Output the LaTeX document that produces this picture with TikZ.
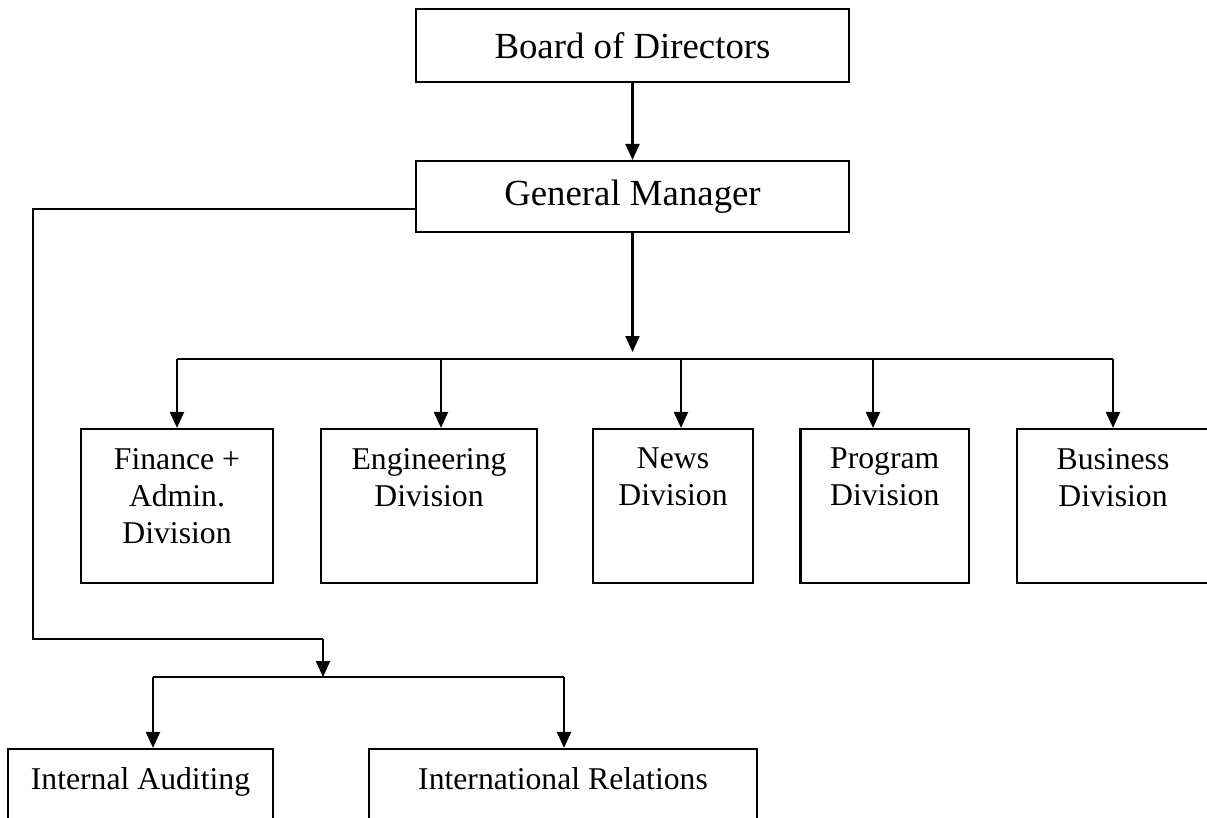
\documentclass[tikz,border=0pt]{standalone}
\usepackage{fontspec}
\setmainfont{Liberation Serif}
\usetikzlibrary{arrows.meta}
\begin{document}
\begin{tikzpicture}[x=1pt,y=-1pt,
  ln/.style={line width=2.2pt},
  arr/.style={line width=2.2pt,-{Triangle[length=16pt,width=14pt]}},
  box/.style={draw,line width=2.2pt,inner sep=0pt},
  big/.style={font=\fontsize{36.8}{43}\selectfont},
  divtext/.style={inner sep=0pt,anchor=north,align=center,font=\fontsize{31.7}{37}\selectfont},
  lowtext/.style={inner sep=0pt,anchor=base,font=\fontsize{31.7}{37}\selectfont}]
\useasboundingbox (0,0) rectangle (1207,818);
\fill[white] (0,0) rectangle (1207,818);
\clip (0,0) rectangle (1207,818);
% top boxes
\node[box,big,minimum width=433pt,minimum height=73pt] (board) at (632.5,45.5) {Board of Directors};
\node[box,big,minimum width=433pt,minimum height=71pt] (gm) at (632.5,196.5) {General Manager};
% division boxes
\node[box,minimum width=192pt,minimum height=154pt] (fin) at (177,506) {};
\node[box,minimum width=216pt,minimum height=154pt] (eng) at (429,506) {};
\node[box,minimum width=160pt,minimum height=154pt] (news) at (673,506) {};
\node[box,minimum width=168.5pt,minimum height=154pt] (prog) at (884.75,506) {};
\node[box,minimum width=193pt,minimum height=154pt] (bus) at (1113.5,506) {};
\node[divtext] (fint) at (177,448) {Finance +\\Admin.\\Division};
\node[divtext] (engt) at (429,448) {Engineering\\Division};
\node[divtext] (newst) at (673,448) {News\\Division};
\node[divtext] (progt) at (884.75,448) {Program\\Division};
\node[divtext] (bust) at (1113,448) {Business\\Division};
% bottom boxes
\node[box,minimum width=265pt,minimum height=100pt] (aud) at (140.5,799) {};
\node[box,minimum width=388pt,minimum height=100pt] (intl) at (563,799) {};
\node[lowtext] (audt) at (140.5,789) {Internal Auditing};
\node[lowtext] (intlt) at (563,789) {International Relations};
% connectors top
\draw[arr] (board.south) -- (gm.north);
\coordinate (T1) at (632.5,352);
\coordinate (B1) at (632.5,359);
\coordinate (xe) at (441,0);
\coordinate (xn) at (681,0);
\coordinate (xp) at (873,0);
\coordinate (xb) at (1113,0);
\draw[arr] (gm.south) -- (T1);
\draw[ln] (B1 -| fin.north) -- (B1 -| xb);
\draw[arr] (B1 -| fin.north) -- (fin.north);
\draw[arr] (B1 -| xe) -- (eng.north -| xe);
\draw[arr] (B1 -| xn) -- (news.north -| xn);
\draw[arr] (B1 -| xp) -- (prog.north -| xp);
\draw[arr] (B1 -| xb) -- (bus.north -| xb);
% left branch
\coordinate (L1) at (33,209);
\coordinate (L2) at (33,639);
\coordinate (L3) at (323,639);
\coordinate (B2) at (323,677);
\coordinate (xa) at (153,0);
\coordinate (xr) at (564,0);
\draw[ln] (gm.west |- L1) -- (L1) -- (L2) -- (L3);
\draw[arr] (L3) -- (B2);
\draw[ln] (B2 -| xa) -- (B2 -| xr);
\draw[arr] (B2 -| xa) -- (aud.north -| xa);
\draw[arr] (B2 -| xr) -- (intl.north -| xr);
\end{tikzpicture}
\end{document}
